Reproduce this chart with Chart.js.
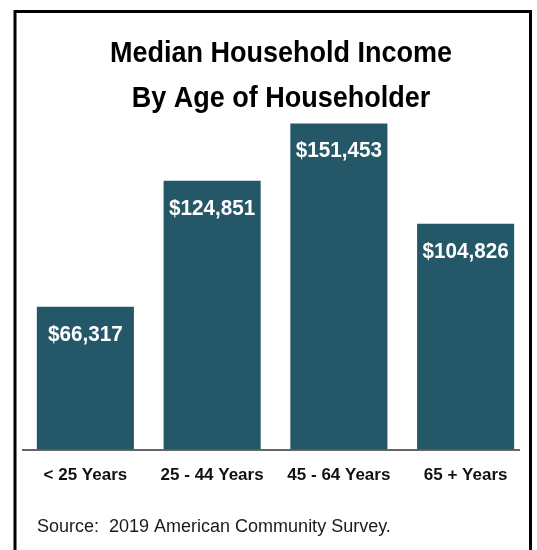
<!DOCTYPE html>
<html>
<head>
<meta charset="utf-8">
<script src="https://cdn.jsdelivr.net/npm/chart.js@4.4.1/dist/chart.umd.min.js"></script>
<style>
  html, body { margin: 0; padding: 0; background: #ffffff; }
  #wrap { width: 537px; height: 550px; }
</style>
</head>
<body>
<div id="wrap"><canvas id="c" width="537" height="550"></canvas></div>
<script>
const categories = ['< 25 Years', '25 - 44 Years', '45 - 64 Years', '65 + Years'];
const incomes = [66317, 124851, 151453, 104826];
const titleLines = ['Median Household Income', 'By Age of Householder'];
const sourceText = 'Source:  2019 American Community Survey.';

const barColor = '#245868';

function drawCondensed(ctx, text, cx, y, squeeze) {
  ctx.save();
  ctx.translate(cx, y);
  ctx.scale(squeeze, 1);
  ctx.textAlign = 'center';
  ctx.fillText(text, 0, 0);
  ctx.restore();
}

const decorPlugin = {
  id: 'decor',
  beforeDraw(chart) {
    const ctx = chart.ctx;
    ctx.save();
    ctx.fillStyle = '#ffffff';
    ctx.fillRect(0, 0, chart.width, chart.height);
    ctx.restore();
  },
  afterDatasetsDraw(chart) {
    const ctx = chart.ctx;
    const meta = chart.getDatasetMeta(0);
    ctx.save();
    ctx.fillStyle = '#ffffff';
    ctx.font = 'bold 22px "Liberation Sans", Arial, sans-serif';
    ctx.textBaseline = 'alphabetic';
    meta.data.forEach((bar, i) => {
      const v = incomes[i];
      const label = '$' + v.toLocaleString('en-US');
      drawCondensed(ctx, label, bar.x, bar.y + 34, 0.94);
    });
    ctx.restore();
  },
  afterDraw(chart) {
    const ctx = chart.ctx;
    const area = chart.chartArea;
    ctx.save();
    // baseline
    ctx.strokeStyle = '#333333';
    ctx.lineWidth = 1.5;
    ctx.beginPath();
    ctx.moveTo(22, area.bottom + 0.5);
    ctx.lineTo(520, area.bottom + 0.5);
    ctx.stroke();
    // title
    ctx.fillStyle = '#000000';
    ctx.textBaseline = 'alphabetic';
    ctx.font = 'bold 30px "Liberation Sans", Arial, sans-serif';
    drawCondensed(ctx, titleLines[0], 281, 62, 0.9);
    drawCondensed(ctx, titleLines[1], 281, 107, 0.9);
    // source
    ctx.textAlign = 'left';
    ctx.fillStyle = '#1a1a1a';
    ctx.font = '18px "Liberation Sans", Arial, sans-serif';
    ctx.fillText(sourceText, 37, 532);
    // frame
    ctx.strokeStyle = '#000000';
    ctx.lineWidth = 3;
    ctx.strokeRect(15, 11.5, 515.5, 600);
    ctx.restore();
  }
};

new Chart(document.getElementById('c'), {
  type: 'bar',
  data: {
    labels: categories,
    datasets: [{
      data: incomes,
      backgroundColor: barColor,
      borderWidth: 0,
      barPercentage: 0.766,
      categoryPercentage: 1.0
    }]
  },
  options: {
    responsive: false,
    animation: false,
    devicePixelRatio: 1,
    layout: { padding: { left: 22, right: 8, top: 105, bottom: 48 } },
    plugins: {
      legend: { display: false },
      title: { display: false },
      tooltip: { enabled: false }
    },
    scales: {
      x: {
        grid: { display: false, drawTicks: false },
        border: { display: false },
        ticks: {
          color: '#111111',
          padding: 16,
          font: { family: '"Liberation Sans", Arial, sans-serif', size: 17, weight: 'bold' }
        }
      },
      y: {
        display: false,
        min: 0,
        max: 160000
      }
    }
  },
  plugins: [decorPlugin]
});
</script>
</body>
</html>
